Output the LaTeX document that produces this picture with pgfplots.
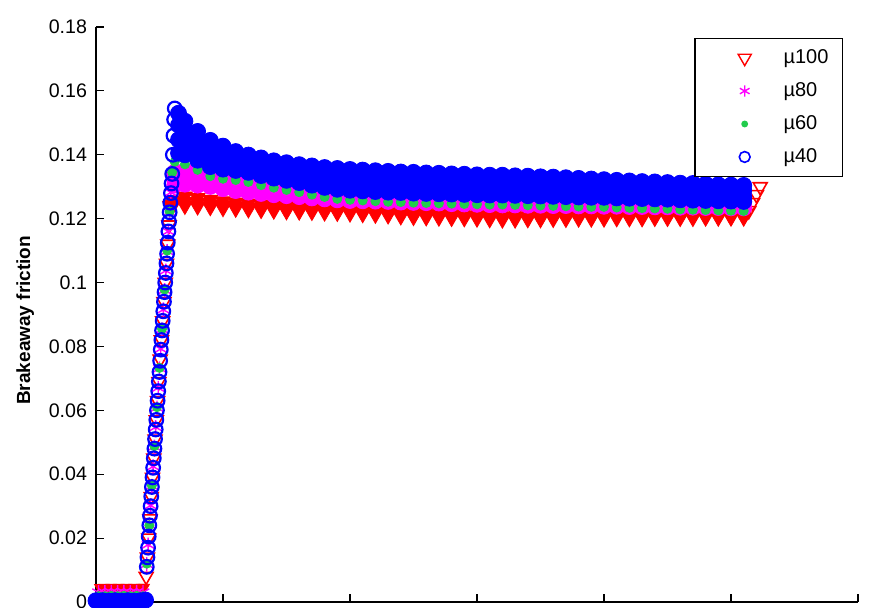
\documentclass[border=0pt]{standalone}
\usepackage{fontspec}
\setmainfont{Liberation Sans}
\usepackage{pgfplots}
\usepackage{pgfplotstable}
\pgfplotsset{compat=1.18}

\definecolor{mred}{rgb}{1,0,0}
\definecolor{mmag}{rgb}{1,0,1}
\definecolor{mgrn}{rgb}{0.13,0.80,0.30}
\definecolor{mblu}{rgb}{0,0,1}

% mu100 : start
\pgfplotstableread{
x y
0.03 0.0045
0.06 0.0046
0.09 0.0045
0.12 0.0046
0.15 0.0045
0.18 0.0046
0.21 0.0045
0.24 0.0046
0.27 0.0045
0.30 0.0046
0.33 0.0045
0.36 0.0046
0.38 0.0046
}\redflat
% mu100 : rise and end
\pgfplotstableread{
x y
0.395 0.0080
0.405 0.0140
0.415 0.0200
0.425 0.0260
0.435 0.0330
0.445 0.0390
0.455 0.0450
0.465 0.0510
0.475 0.0570
0.485 0.0630
0.495 0.0690
0.505 0.0760
0.515 0.0820
0.525 0.0880
0.535 0.0940
0.545 0.1000
0.555 0.1060
0.565 0.1120
0.575 0.1180
0.585 0.1240
5.14 0.1225
5.17 0.1250
5.20 0.1275
5.23 0.1300
}\redrise
% mu100 : plateau band
\pgfplotstableread{
x hi mid lo
0.60 0.1258 0.1245 0.1237
0.70 0.1270 0.1253 0.1240
0.80 0.1265 0.1250 0.1238
0.90 0.1260 0.1246 0.1236
1.00 0.1255 0.1242 0.1233
1.10 0.1251 0.1239 0.1231
1.20 0.1248 0.1236 0.1229
1.30 0.1245 0.1234 0.1227
1.40 0.1242 0.1232 0.1225
1.50 0.1240 0.1230 0.1223
1.60 0.1238 0.1229 0.1222
1.70 0.1236 0.1227 0.1221
1.80 0.1234 0.1226 0.1219
1.90 0.1233 0.1224 0.1218
2.00 0.1232 0.1223 0.1216
2.10 0.1231 0.1221 0.1214
2.20 0.1229 0.1219 0.1212
2.30 0.1228 0.1218 0.1210
2.40 0.1226 0.1215 0.1207
2.50 0.1225 0.1214 0.1205
2.60 0.1224 0.1213 0.1204
2.70 0.1223 0.1212 0.1203
2.80 0.1222 0.1211 0.1202
2.90 0.1222 0.1210 0.1201
3.00 0.1221 0.1209 0.1200
3.10 0.1220 0.1208 0.1198
3.20 0.1220 0.1207 0.1197
3.30 0.1220 0.1207 0.1197
3.40 0.1219 0.1207 0.1198
3.50 0.1219 0.1207 0.1198
3.60 0.1218 0.1207 0.1199
3.70 0.1218 0.1207 0.1199
3.80 0.1217 0.1207 0.1200
3.90 0.1217 0.1207 0.1200
4.00 0.1217 0.1207 0.1200
4.10 0.1216 0.1207 0.1201
4.20 0.1216 0.1207 0.1201
4.30 0.1216 0.1207 0.1201
4.40 0.1216 0.1207 0.1202
4.50 0.1215 0.1207 0.1202
4.60 0.1215 0.1207 0.1202
4.70 0.1215 0.1207 0.1202
4.80 0.1215 0.1207 0.1203
4.90 0.1215 0.1207 0.1203
5.00 0.1215 0.1207 0.1203
5.10 0.1215 0.1208 0.1203
}\redband

% mu80
\pgfplotstableread{
x y
0.02 0.0030
0.07 0.0030
0.12 0.0031
0.17 0.0030
0.22 0.0031
0.27 0.0030
0.32 0.0031
0.37 0.0030
0.40 0.0118
0.41 0.0179
0.42 0.0241
0.43 0.0302
0.44 0.0363
0.45 0.0424
0.46 0.0486
0.47 0.0547
0.48 0.0608
0.49 0.0670
0.50 0.0731
0.51 0.0792
0.52 0.0853
0.53 0.0915
0.54 0.0976
0.55 0.1037
0.56 0.1098
0.57 0.1160
0.58 0.1221
0.59 0.1282
0.60 0.1330
}\magrise
\pgfplotstableread{
x hi mid lo
0.62 0.1345 0.1325 0.1305
0.70 0.1350 0.1329 0.1308
0.80 0.1343 0.1324 0.1305
0.90 0.1335 0.1318 0.1301
1.00 0.1327 0.1311 0.1294
1.10 0.1321 0.1305 0.1288
1.20 0.1316 0.1300 0.1283
1.30 0.1312 0.1296 0.1279
1.40 0.1308 0.1292 0.1275
1.50 0.1305 0.1289 0.1272
1.60 0.1302 0.1286 0.1269
1.70 0.1300 0.1283 0.1265
1.80 0.1297 0.1280 0.1262
1.90 0.1295 0.1277 0.1259
2.00 0.1293 0.1275 0.1257
2.10 0.1292 0.1274 0.1256
2.20 0.1291 0.1273 0.1255
2.30 0.1290 0.1272 0.1254
2.40 0.1289 0.1271 0.1252
2.50 0.1288 0.1270 0.1251
2.60 0.1286 0.1268 0.1250
2.70 0.1285 0.1267 0.1249
2.80 0.1284 0.1266 0.1247
2.90 0.1283 0.1265 0.1246
3.00 0.1282 0.1264 0.1245
3.10 0.1281 0.1263 0.1244
3.20 0.1280 0.1262 0.1243
3.30 0.1280 0.1262 0.1243
3.40 0.1279 0.1261 0.1242
3.50 0.1279 0.1261 0.1242
3.60 0.1278 0.1260 0.1241
3.70 0.1278 0.1260 0.1241
3.80 0.1277 0.1259 0.1240
3.90 0.1277 0.1259 0.1240
4.00 0.1276 0.1258 0.1239
4.10 0.1275 0.1257 0.1239
4.20 0.1275 0.1257 0.1238
4.30 0.1274 0.1256 0.1238
4.40 0.1274 0.1256 0.1237
4.50 0.1273 0.1255 0.1237
4.60 0.1272 0.1254 0.1236
4.70 0.1272 0.1254 0.1236
4.80 0.1271 0.1253 0.1235
4.90 0.1271 0.1253 0.1235
5.00 0.1270 0.1252 0.1234
5.10 0.1270 0.1252 0.1234
}\magband

% mu60
\pgfplotstableread{
x y
0.02 0.0018
0.07 0.0018
0.12 0.0019
0.17 0.0018
0.22 0.0019
0.27 0.0018
0.32 0.0019
0.37 0.0018
0.40 0.0120
0.42 0.0240
0.44 0.0365
0.46 0.0488
0.48 0.0610
0.50 0.0733
0.52 0.0855
0.54 0.0978
0.56 0.1100
0.58 0.1222
0.60 0.1345
0.62 0.1378
0.70 0.1370
0.80 0.1353
0.90 0.1333
1.00 0.1325
1.10 0.1321
1.20 0.1315
1.30 0.1305
1.40 0.1297
1.50 0.1290
1.60 0.1283
1.70 0.1275
1.80 0.1268
1.90 0.1262
2.00 0.1259
2.10 0.1257
2.20 0.1255
2.30 0.1253
2.40 0.1252
2.50 0.1250
2.60 0.1249
2.70 0.1248
2.80 0.1247
2.90 0.1246
3.00 0.1245
3.10 0.1244
3.20 0.1244
3.30 0.1243
3.40 0.1242
3.50 0.1241
3.60 0.1240
3.70 0.1239
3.80 0.1238
3.90 0.1237
4.00 0.1237
4.10 0.1235
4.20 0.1234
4.30 0.1233
4.40 0.1232
4.50 0.1231
4.60 0.1229
4.70 0.1228
4.80 0.1227
4.90 0.1226
5.00 0.1225
5.10 0.1224
}\grn

% mu40
\pgfplotstableread{
x y
0.00 0.0004
0.05 0.0004
0.10 0.0003
0.15 0.0004
0.20 0.0003
0.25 0.0004
0.30 0.0003
0.35 0.0004
0.39 0.0006
}\bluflat
\pgfplotstableread{
x y
0.400 0.0110
0.405 0.0140
0.410 0.0170
0.415 0.0205
0.420 0.0240
0.425 0.0270
0.430 0.0300
0.435 0.0330
0.440 0.0360
0.445 0.0390
0.450 0.0420
0.455 0.0450
0.460 0.0480
0.465 0.0510
0.470 0.0540
0.475 0.0570
0.480 0.0600
0.485 0.0630
0.490 0.0660
0.495 0.0690
0.500 0.0720
0.505 0.0755
0.510 0.0790
0.515 0.0820
0.520 0.0850
0.525 0.0880
0.530 0.0910
0.535 0.0940
0.540 0.0970
0.545 0.1000
0.550 0.1030
0.555 0.1060
0.560 0.1090
0.565 0.1125
0.570 0.1160
0.575 0.1190
0.580 0.1220
0.585 0.1250
0.590 0.1280
0.595 0.1310
0.600 0.1340
0.605 0.1400
0.610 0.1460
0.615 0.1510
0.620 0.1545
}\blurise
\pgfplotstableread{
x hi ma mb lo
0.65 0.1530 0.1493 0.1447 0.1405
0.70 0.1505 0.1472 0.1433 0.1400
0.80 0.1473 0.1445 0.1411 0.1383
0.90 0.1445 0.1419 0.1389 0.1363
1.00 0.1427 0.1405 0.1377 0.1355
1.10 0.1410 0.1392 0.1369 0.1351
1.20 0.1399 0.1383 0.1361 0.1345
1.30 0.1390 0.1373 0.1352 0.1335
1.40 0.1381 0.1365 0.1343 0.1327
1.50 0.1375 0.1358 0.1337 0.1320
1.60 0.1369 0.1352 0.1330 0.1313
1.70 0.1365 0.1347 0.1323 0.1305
1.80 0.1360 0.1341 0.1317 0.1298
1.90 0.1357 0.1337 0.1312 0.1292
2.00 0.1354 0.1334 0.1309 0.1289
2.10 0.1352 0.1332 0.1307 0.1287
2.20 0.1350 0.1330 0.1305 0.1285
2.30 0.1348 0.1328 0.1303 0.1283
2.40 0.1346 0.1326 0.1302 0.1282
2.50 0.1345 0.1325 0.1300 0.1280
2.60 0.1343 0.1323 0.1299 0.1279
2.70 0.1342 0.1322 0.1298 0.1278
2.80 0.1340 0.1321 0.1296 0.1277
2.90 0.1339 0.1320 0.1295 0.1276
3.00 0.1337 0.1318 0.1294 0.1275
3.10 0.1336 0.1317 0.1293 0.1274
3.20 0.1336 0.1317 0.1293 0.1274
3.30 0.1334 0.1315 0.1292 0.1273
3.40 0.1333 0.1314 0.1291 0.1272
3.50 0.1331 0.1313 0.1289 0.1271
3.60 0.1330 0.1312 0.1288 0.1270
3.70 0.1328 0.1310 0.1287 0.1269
3.80 0.1326 0.1308 0.1286 0.1268
3.90 0.1324 0.1307 0.1284 0.1267
4.00 0.1322 0.1305 0.1284 0.1267
4.10 0.1320 0.1303 0.1282 0.1265
4.20 0.1318 0.1302 0.1280 0.1264
4.30 0.1316 0.1300 0.1279 0.1263
4.40 0.1315 0.1299 0.1278 0.1262
4.50 0.1313 0.1297 0.1277 0.1261
4.60 0.1311 0.1295 0.1275 0.1259
4.70 0.1310 0.1294 0.1274 0.1258
4.80 0.1308 0.1293 0.1272 0.1257
4.90 0.1306 0.1291 0.1271 0.1256
5.00 0.1305 0.1290 0.1270 0.1255
5.10 0.1304 0.1289 0.1269 0.1254
}\bluband

\begin{document}
\begin{tikzpicture}
\begin{axis}[
  scale only axis,
  width=381pt, height=287.5pt,
  xmin=0, xmax=6, ymin=0, ymax=0.18,
  axis lines*=left,
  axis line style={-, line width=0.6pt},
  tick align=inside,
  major tick length=4pt,
  tick style={line width=0.6pt, black},
  xtick={0,1,2,3,4,5,6}, xticklabels={},
  ytick={0,0.02,0.04,0.06,0.08,0.1,0.12,0.14,0.16,0.18},
  scaled y ticks=false,
  yticklabel style={/pgf/number format/fixed, /pgf/number format/precision=2,
    /pgf/number format/assume math mode=true,
    font=\fontsize{9.8}{11}\selectfont, xshift=-1pt},
  ylabel={Brakeaway friction},
  ylabel style={at={(axis description cs:-0.093,0.49)}, anchor=center,
    font=\fontsize{9.5}{11}\selectfont\bfseries},
  clip=false,
  only marks,
  legend cell align=left,
  legend style={at={(axis description cs:1,1)}, anchor=north east,
    xshift=-7.5pt, yshift=-5.5pt, draw=black, line width=0.6pt,
    font=\fontsize{10}{11}\selectfont, inner xsep=5pt, inner ysep=3.5pt, row sep=4pt},
  legend image code/.code={\path (0pt,0pt) (36.5pt,0pt); \draw[#1] plot coordinates {(19.5pt,0pt)};},
]
% mu100
\addplot[forget plot, color=mred, mark=triangle*, mark size=3pt, mark options={rotate=180}] table{\redflat};
\addplot[forget plot, color=mred, mark=triangle, mark size=4pt, mark options={rotate=180, line width=0.8pt}] table{\redrise};
\addplot[forget plot, color=mred, mark=triangle*, mark size=4.3pt, mark options={rotate=180}] table[y=hi]{\redband};
\addplot[forget plot, color=mred, mark=triangle*, mark size=4.3pt, mark options={rotate=180}] table[y=lo]{\redband};
\addplot[color=mred, mark=triangle*, mark size=4.3pt, mark options={rotate=180},
  legend image post style={mark=triangle, mark size=3.8pt, line width=0.7pt}] table[y=mid]{\redband};
\addlegendentry{µ100}
% mu80
\addplot[forget plot, color=mmag, mark=asterisk, mark size=3.6pt, line width=0.7pt] table{\magrise};
\addplot[forget plot, color=mmag, mark=*, mark size=4pt] table[y=hi]{\magband};
\addplot[forget plot, color=mmag, mark=*, mark size=4pt] table[y=mid]{\magband};
\addplot[forget plot, color=mmag, mark=*, mark size=4pt] table[y=lo]{\magband};
\addplot[color=mmag, mark=asterisk, mark size=3.6pt, line width=0.7pt,
  legend image post style={mark size=2.8pt}] table[y=mid]{\magband};
\addlegendentry{µ80}
% mu60
\addplot[color=mgrn, mark=*, mark size=2.3pt,
  legend image post style={mark size=1.4pt}] table{\grn};
\addlegendentry{µ60}
% mu40
\addplot[forget plot, color=mblu, mark=*, mark size=4pt] table{\bluflat};
\addplot[forget plot, color=mblu, mark=*, mark size=4pt] table[y=hi]{\bluband};
\addplot[forget plot, color=mblu, mark=*, mark size=4pt] table[y=ma]{\bluband};
\addplot[forget plot, color=mblu, mark=*, mark size=4pt] table[y=mb]{\bluband};
\addplot[forget plot, color=mblu, mark=*, mark size=4pt] table[y=lo]{\bluband};
\addplot[forget plot, color=mblu, mark=o, mark size=3.4pt, line width=1.1pt] table{\blurise};
\addplot[color=mblu, mark=o, mark size=3.4pt, line width=0.8pt,
  legend image post style={mark size=2.7pt}] table[y=hi]{\bluband};
\addlegendentry{µ40}
\end{axis}
\pgfresetboundingbox
\path[use as bounding box] ([shift={(-48pt,-3pt)}]current axis.south west)
  rectangle ([shift={(14.5pt,13.5pt)}]current axis.north east);
\end{tikzpicture}
\end{document}
